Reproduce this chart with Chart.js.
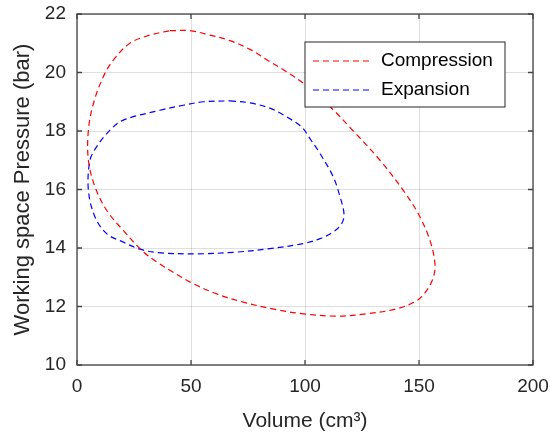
<!DOCTYPE html>
<html>
<head>
<meta charset="utf-8">
<script src="https://cdn.jsdelivr.net/npm/chart.js@4"></script>
<style>
  html, body { margin: 0; padding: 0; background: #fff; }
  #c { display: block; }
</style>
</head>
<body>
<canvas id="c" width="550" height="437"></canvas>
<script>
const FONT = '"Liberation Sans", Arial, Helvetica, sans-serif';

// compression loop (volume cm3, pressure bar)
const compressionVolume = [40.8, 49.6, 58.3, 67.1, 75.9, 84.6, 92, 99.3, 111, 120, 132.9, 143.1, 149.7, 154.8, 157, 156.3, 153.4, 149, 140.2, 127, 113.9, 99.3, 87.6, 72.9, 61.3, 51, 42, 35, 28.4, 20.3, 13, 7.9, 5, 5, 7.2, 11.5, 15.9, 23.2, 32, 40.8];
const compressionPressure = [21.43, 21.43, 21.28, 21.09, 20.79, 20.37, 20.02, 19.63, 18.83, 18.1, 17.0, 15.97, 15.17, 14.26, 13.46, 13.0, 12.55, 12.2, 11.92, 11.75, 11.67, 11.75, 11.89, 12.15, 12.43, 12.78, 13.18, 13.52, 13.92, 14.6, 15.29, 16.09, 17.0, 18.03, 18.94, 19.85, 20.42, 21.0, 21.28, 21.43];

// expansion loop
const expansionVolume = [67.1, 75.9, 84.6, 92, 98.5, 102.5, 106.6, 112.4, 115.4, 117.1, 116.1, 112.4, 106.6, 99.3, 84.6, 70, 52.5, 35.7, 27.6, 20.3, 13, 7.9, 5, 5.7, 8.6, 14.5, 20.3, 36.4, 46.6, 55.4, 67.1];
const expansionPressure = [19.03, 18.96, 18.78, 18.48, 18.14, 17.7, 17.23, 16.43, 15.74, 15.17, 14.83, 14.55, 14.32, 14.15, 13.98, 13.86, 13.8, 13.84, 13.96, 14.2, 14.49, 15.06, 15.97, 17.0, 17.46, 18.03, 18.37, 18.71, 18.88, 19.0, 19.03];

const xTicks = [0, 50, 100, 150, 200];
const yTicks = [10, 12, 14, 16, 18, 20, 22];

const toPoints = (xs, ys) => xs.map((x, i) => ({ x: x, y: ys[i] }));

// box, inward tick marks on all four sides
const axesBox = {
  id: 'axesBox',
  afterDatasetsDraw(chart) {
    const { ctx, chartArea: a, scales } = chart;
    ctx.save();
    ctx.strokeStyle = '#444';
    ctx.lineWidth = 1.3;
    ctx.setLineDash([]);
    ctx.strokeRect(a.left, a.top, a.right - a.left, a.bottom - a.top);
    ctx.beginPath();
    xTicks.forEach((v) => {
      const px = scales.x.getPixelForValue(v);
      ctx.moveTo(px, a.bottom); ctx.lineTo(px, a.bottom - 5);
      ctx.moveTo(px, a.top); ctx.lineTo(px, a.top + 5);
    });
    yTicks.forEach((v) => {
      const py = scales.y.getPixelForValue(v);
      ctx.moveTo(a.left, py); ctx.lineTo(a.left + 5, py);
      ctx.moveTo(a.right, py); ctx.lineTo(a.right - 5, py);
    });
    ctx.stroke();
    ctx.restore();
  }
};

// matlab style boxed legend, top right
const boxLegend = {
  id: 'boxLegend',
  afterDraw(chart) {
    const { ctx, chartArea: a } = chart;
    const right = a.right - 28, top = a.top + 28;
    const w = 200, h = 65;
    const left = right - w;
    ctx.save();
    ctx.fillStyle = '#fff';
    ctx.fillRect(left, top, w, h);
    ctx.strokeStyle = '#262626';
    ctx.lineWidth = 1;
    ctx.strokeRect(left, top, w, h);
    ctx.font = '19px ' + FONT;
    ctx.textBaseline = 'middle';
    chart.data.datasets.forEach((ds, i) => {
      const y = top + 19 + i * 29;
      ctx.strokeStyle = ds.borderColor;
      ctx.lineWidth = ds.borderWidth;
      ctx.setLineDash(ds.borderDash);
      ctx.beginPath();
      ctx.moveTo(left + 8, y);
      ctx.lineTo(left + 68, y);
      ctx.stroke();
      ctx.setLineDash([]);
      ctx.fillStyle = '#000';
      ctx.fillText(ds.label, left + 76, y);
    });
    ctx.restore();
  }
};

new Chart(document.getElementById('c').getContext('2d'), {
  type: 'scatter',
  data: {
    datasets: [
      {
        label: 'Compression',
        data: toPoints(compressionVolume, compressionPressure),
        showLine: true,
        borderColor: '#ff0000',
        borderWidth: 1.2,
        borderDash: [6, 4],
        pointRadius: 0,
        tension: 0.35,
        fill: false,
      },
      {
        label: 'Expansion',
        data: toPoints(expansionVolume, expansionPressure),
        showLine: true,
        borderColor: '#0000ff',
        borderWidth: 1.2,
        borderDash: [6, 4],
        pointRadius: 0,
        tension: 0.35,
        fill: false,
      },
    ],
  },
  options: {
    responsive: false,
    animation: false,
    layout: { padding: { top: 14, right: 17, left: 0, bottom: 0 } },
    plugins: {
      legend: { display: false },
      tooltip: { enabled: false },
    },
    scales: {
      x: {
        type: 'linear',
        min: 0,
        max: 200,
        afterBuildTicks: (s) => { s.ticks = xTicks.map((v) => ({ value: v })); },
        afterFit: (s) => { s.height = 72; s.paddingLeft = 0; s.paddingRight = 0; },
        ticks: { font: { family: FONT, size: 19 }, color: '#262626', padding: 10 },
        grid: { color: 'rgba(38,38,38,0.15)', drawTicks: false },
        border: { display: false },
        title: {
          display: true,
          text: 'Volume (cm³)',
          color: '#262626',
          font: { family: FONT, size: 21 },
          padding: { top: 0, bottom: 3 },
        },
      },
      y: {
        type: 'linear',
        min: 10,
        max: 22,
        afterBuildTicks: (s) => { s.ticks = yTicks.map((v) => ({ value: v })); },
        afterFit: (s) => { s.width = 77; s.paddingTop = 0; s.paddingBottom = 0; },
        ticks: { font: { family: FONT, size: 19 }, color: '#262626', padding: 11 },
        grid: { color: 'rgba(38,38,38,0.15)', drawTicks: false },
        border: { display: false },
        title: {
          display: true,
          text: 'Working space Pressure (bar)',
          color: '#262626',
          font: { family: FONT, size: 22 },
          padding: { top: 10, bottom: 0 },
        },
      },
    },
  },
  plugins: [axesBox, boxLegend],
});
</script>
</body>
</html>
